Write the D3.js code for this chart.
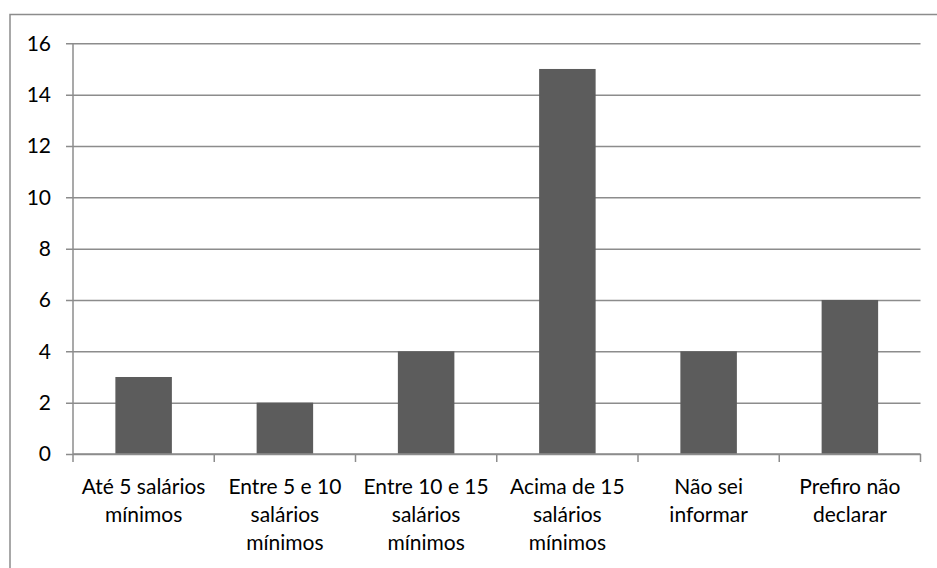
<!DOCTYPE html>
<html>
<head>
<meta charset="utf-8">
<script src="https://cdn.jsdelivr.net/npm/d3@7"></script>
<style>
  html, body { margin: 0; padding: 0; background: #fff; }
  svg { display: block; }
  text { font-family: Lato, "Open Sans", sans-serif; fill: #000; }
</style>
</head>
<body>
<svg id="chart" width="937" height="568"></svg>
<script>
// Income brackets (Portuguese labels, split into display lines)
const categories = [
  ["Até 5 salários", "mínimos"],
  ["Entre 5 e 10", "salários", "mínimos"],
  ["Entre 10 e 15", "salários", "mínimos"],
  ["Acima de 15", "salários", "mínimos"],
  ["Não sei", "informar"],
  ["Prefiro não", "declarar"]
];
const counts = [3, 2, 4, 15, 4, 6];
const yTicks = [0, 2, 4, 6, 8, 10, 12, 14, 16];

const svg = d3.select("#chart");
const W = 937, H = 568;
const plot = { left: 73, right: 920.5, top: 43.3, bottom: 454 };
const fontSize = "21px";

// outer chart frame
svg.append("rect")
  .attr("x", 10).attr("y", 14.5)
  .attr("width", W + 10).attr("height", H + 10)
  .attr("fill", "none").attr("stroke", "#8c8c8c").attr("stroke-width", 1.5);

const keys = categories.map((c, i) => i);
const x = d3.scaleBand().domain(keys)
  .range([plot.left, plot.right])
  .paddingInner(0.6).paddingOuter(0.3);
const xEdges = d3.scaleBand().domain(keys).range([plot.left, plot.right]);
const y = d3.scaleLinear().domain([0, 16]).range([plot.bottom, plot.top]);

// horizontal gridlines with left tick marks
const yAxis = d3.axisLeft(y).tickValues(yTicks)
  .tickSize(-(plot.right - plot.left)).tickPadding(22).tickFormat(d3.format("d"));
const gy = svg.append("g").attr("transform", `translate(${plot.left},0)`).call(yAxis);
gy.select(".domain").remove();
gy.selectAll(".tick line").attr("stroke", "#8c8c8c").attr("stroke-width", 1.5)
  .attr("x1", -7);
gy.selectAll(".tick text").style("font-size", fontSize).attr("fill", "#000");

// vertical value axis line
svg.append("line")
  .attr("x1", plot.left).attr("x2", plot.left)
  .attr("y1", plot.top).attr("y2", plot.bottom)
  .attr("stroke", "#8c8c8c").attr("stroke-width", 1.5);

// bars
svg.append("g").selectAll("rect").data(counts).join("rect")
  .attr("x", (d, i) => x(i))
  .attr("width", x.bandwidth())
  .attr("y", d => y(d))
  .attr("height", d => y(0) - y(d))
  .attr("fill", "#5c5c5c");

// category axis line and tick marks between categories
svg.append("line")
  .attr("x1", plot.left).attr("x2", plot.right)
  .attr("y1", y(0)).attr("y2", y(0))
  .attr("stroke", "#8c8c8c").attr("stroke-width", 1.5);
const edges = keys.map(k => xEdges(k)).concat([plot.right]);
svg.append("g").selectAll("line").data(edges).join("line")
  .attr("x1", d => d).attr("x2", d => d)
  .attr("y1", y(0)).attr("y2", y(0) + 8)
  .attr("stroke", "#8c8c8c").attr("stroke-width", 1.5);

// category labels
const lab = svg.append("g").selectAll("text").data(categories).join("text")
  .attr("text-anchor", "middle")
  .style("font-size", fontSize)
  .attr("x", (d, i) => x(i) + x.bandwidth() / 2)
  .attr("y", 494);
lab.selectAll("tspan").data(d => d).join("tspan")
  .attr("x", function() { return d3.select(this.parentNode).attr("x"); })
  .attr("dy", (d, i) => i === 0 ? 0 : 28)
  .text(d => d);
</script>
</body>
</html>
